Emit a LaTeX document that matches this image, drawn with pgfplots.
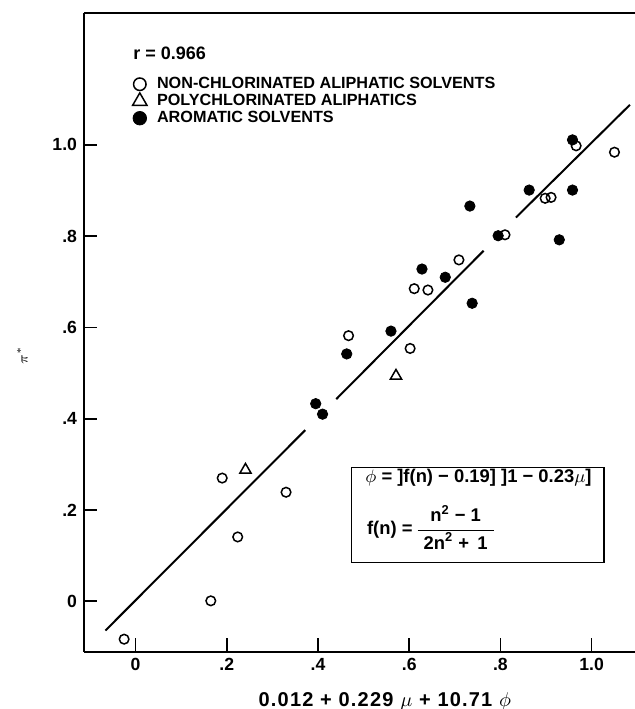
\documentclass[border=0pt]{standalone}
\usepackage{fontspec}
\setmainfont{Liberation Sans}
\usepackage{pgfplots}
\pgfplotsset{compat=1.18}
\begin{document}
\begin{tikzpicture}
\useasboundingbox (-42pt,-28.75pt) rectangle (275.5pt,325.75pt);
\begin{axis}[
  at={(0pt,0pt)}, anchor=south west,
  scale only axis, width=275.5pt, height=319.25pt,
  xmin=-0.113, xmax=1.095, ymin=-0.110, ymax=1.289,
  axis x line*=bottom, axis y line*=left,
  x axis line style={line width=1pt},
  y axis line style={line width=0.7pt},
  tick align=inside,
  major tick length=6.75pt,
  every tick/.style={black, line width=0.8pt},
  xtick={0,0.2,0.4,0.6,0.8,1.0}, xticklabels={0,.2,.4,.6,.8,1.0},
  ytick={0,0.2,0.4,0.6,0.8,1.0}, yticklabels={0,.2,.4,.6,.8,1.0},
  tick label style={font=\bfseries\fontsize{8.8}{10}\selectfont},
  /pgf/number format/assume math mode=true,
  xlabel={0.012 + 0.229 $\mu$ + 10.71 $\phi$},
  xlabel style={at={(rel axis cs:0.546,-0.0775)}, anchor=center, font=\bfseries\fontsize{10}{11}\selectfont\addfontfeatures{LetterSpace=6}},
  ylabel={$\pi^*$},
  ylabel style={at={(rel axis cs:-0.112,0.464)}, anchor=center, font=\fontsize{7}{8}\selectfont},
  clip=false,
  legend style={draw=none, fill=none, at={(rel axis cs:0.0875,0.9024)}, anchor=north west,
    inner sep=0pt, font=\bfseries\fontsize{8.1}{9}\selectfont, row sep=0pt, column sep=0pt,
    nodes={inner sep=0pt, text height=6.2pt, text depth=2.3pt}},
  legend cell align=left,
  legend image code/.code={\draw[mark repeat=2,mark phase=2,#1] plot coordinates {(0pt,0pt) (3.5pt,0pt) (7pt,0pt)};},
  legend image post style={every mark/.append style={scale=1.3}},
]
% regression line (drawn with gaps)
\addplot[no marks, line width=1pt, forget plot] coordinates {(-0.066,-0.064) (0.372,0.375)};
\addplot[no marks, line width=1pt, forget plot] coordinates {(0.440,0.443) (0.763,0.768)};
\addplot[no marks, line width=1pt, forget plot] coordinates {(0.834,0.841) (1.084,1.088)};
% non-chlorinated aliphatic solvents
\addplot[only marks, mark=o, mark size=2.4pt, mark options={line width=0.75pt, black}] coordinates {
(-0.025,-0.083) (0.165,0.001) (0.190,0.270) (0.224,0.141) (0.330,0.239)
(0.467,0.582) (0.602,0.554) (0.611,0.685) (0.641,0.682) (0.709,0.748)
(0.810,0.803) (0.898,0.883) (0.911,0.885) (0.966,0.998) (1.050,0.984)};
\addlegendentry{\hspace*{5pt}NON-CHLORINATED ALIPHATIC SOLVENTS}
% polychlorinated aliphatics
\addplot[only marks, mark=triangle, mark size=3.2pt, mark options={line width=0.75pt, black}] coordinates {
(0.241,0.288) (0.571,0.494)};
\addlegendentry{\hspace*{5pt}POLYCHLORINATED ALIPHATICS}
% aromatic solvents
\addplot[only marks, mark=*, mark size=2.6pt, mark options={black, fill=black}] coordinates {
(0.395,0.433) (0.410,0.410) (0.463,0.542) (0.560,0.592) (0.628,0.728)
(0.679,0.710) (0.738,0.653) (0.733,0.866) (0.795,0.801) (0.863,0.901)
(0.929,0.792) (0.958,0.901) (0.958,1.011)};
\addlegendentry{\hspace*{5pt}AROMATIC SOLVENTS}
% top frame line
\draw[line width=0.7pt] (rel axis cs:0,1) -- (rel axis cs:1,1);
\node[anchor=west, inner sep=0pt, font=\bfseries\fontsize{9}{10}\selectfont] at (rel axis cs:0.089,0.937) {r = 0.966};
% equation box
\draw[line width=0.7pt] (rel axis cs:0.486,0.139) rectangle (rel axis cs:0.944,0.288);
\node[anchor=west, inner sep=0pt, font=\bfseries\fontsize{9.2}{10}\selectfont] at (rel axis cs:0.510,0.272) {$\phi$ = ]f(n) − 0.19] ]1 − 0.23$\mu$]};
\node[anchor=west, inner sep=0pt, font=\bfseries\fontsize{9.2}{13.5}\selectfont] at (rel axis cs:0.513,0.190) {f(n) = \begin{tabular}{@{\hspace{3pt}}c@{\hspace{3pt}}}n\textsuperscript{2} − 1\\\hline 2n\textsuperscript{2} +\, 1\end{tabular}};
\end{axis}
\end{tikzpicture}
\end{document}
